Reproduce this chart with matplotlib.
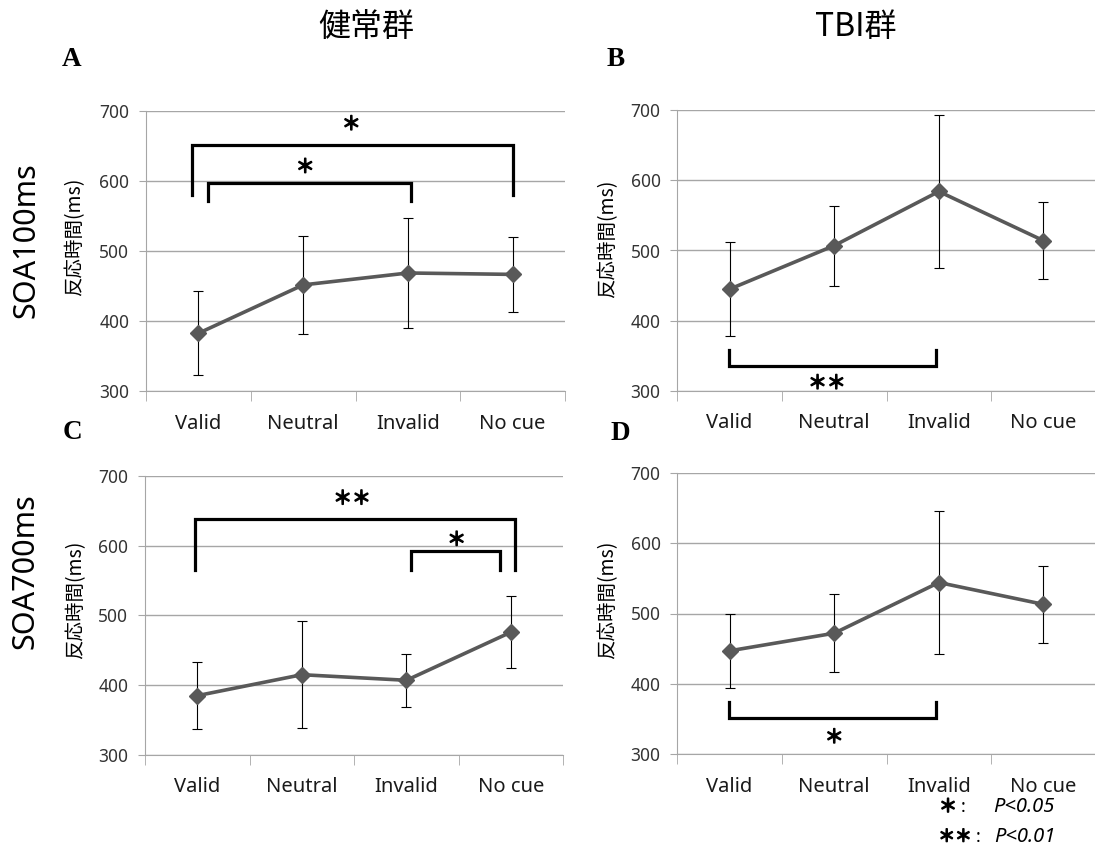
import matplotlib
matplotlib.use('Agg')
import matplotlib.pyplot as plt
import matplotlib.patheffects as pe

plt.rcParams['font.family'] = ['Noto Sans', 'Noto Sans CJK JP', 'DejaVu Sans']

conditions = ['Valid', 'Neutral', 'Invalid', 'No cue']

# A: 健常群 SOA100ms
a_mean = [383, 452, 469, 467]
a_err = [60, 70, 78, 54]
# B: TBI群 SOA100ms
b_mean = [445, 507, 584, 514]
b_err = [67, 57, 109, 55]
# C: 健常群 SOA700ms
c_mean = [385, 415, 407, 476]
c_err = [48, 77, 38, 52]
# D: TBI群 SOA700ms
d_mean = [447, 472, 544, 513]
d_err = [53, 55, 101, 55]

W, H = 1095, 847
fig = plt.figure(figsize=(W / 100, H / 100), dpi=100)
CJK = ['Noto Sans CJK JP', 'DejaVu Sans']
GRID = '#a6a6a6'
HEAVY = [pe.withStroke(linewidth=1.1, foreground='black')]


def px(x, y):
    return x / W, 1 - y / H


def box(l, r, t, b):
    return [l / W, 1 - b / H, (r - l) / W, (b - t) / H]


def stars(ax, x, y, mark):
    ax.text(x, y, mark, ha='center', va='center', fontsize=13.5,
            family=CJK, clip_on=False, path_effects=HEAVY)


def bracket(ax, x1, x2, y, y1, y2):
    ax.plot([x1, x1, x2, x2], [y1, y, y, y2], color='black', lw=2.3,
            clip_on=False, solid_joinstyle='miter', zorder=5)


def panel(rect, mean, err):
    ax = fig.add_axes(rect)
    x = list(range(len(conditions)))
    ax.errorbar(x, mean, yerr=err, fmt='none', ecolor='black', elinewidth=0.8,
                capsize=3.5, capthick=0.8, zorder=3)
    ax.plot(x, mean, color='#595959', lw=2.6, marker='D', ms=8.5, zorder=4)
    ax.set_xlim(-0.5, 3.5)
    ax.set_ylim(300, 700)
    ax.set_yticks([300, 400, 500, 600, 700])
    ax.yaxis.grid(True, color=GRID, lw=1)
    ax.set_axisbelow(True)
    for s in ['top', 'right']:
        ax.spines[s].set_visible(False)
    for s in ['left', 'bottom']:
        ax.spines[s].set_color(GRID)
    ax.set_xticks(x, conditions)
    ax.set_xticks([-0.5, 0.5, 1.5, 2.5, 3.5], minor=True)
    ax.tick_params(axis='x', which='major', length=0, pad=16, labelsize=14.5,
                   labelcolor='#1a1a1a')
    ax.tick_params(axis='x', which='minor', length=7, color=GRID)
    ax.tick_params(axis='y', length=5, color=GRID, labelsize=12.5, pad=7,
                   labelcolor='#333333')
    return ax


axA = panel(box(146, 565, 111, 391.5), a_mean, a_err)
axB = panel(box(677.3, 1095.8, 110, 391), b_mean, b_err)
axC = panel(box(145, 563.3, 475.7, 755), c_mean, c_err)
axD = panel(box(677.3, 1095.8, 472.7, 754.3), d_mean, d_err)

# significance brackets
bracket(axA, -0.06, 3.0, 652, 580, 580)
stars(axA, 1.46, 681, '＊')
bracket(axA, 0.09, 2.03, 597.5, 571, 571)
stars(axA, 1.02, 620, '＊')

bracket(axB, -0.01, 1.97, 335, 359, 359)
stars(axB, 0.93, 311, '＊＊')

bracket(axC, -0.02, 3.04, 638.6, 565, 565)
stars(axC, 1.48, 667, '＊＊')
bracket(axC, 2.04, 2.89, 591.6, 565, 565)
stars(axC, 2.48, 608, '＊')

bracket(axD, -0.01, 1.97, 352, 374.6, 374.6)
stars(axD, 1.0, 324, '＊')

# titles, panel letters, axis labels
fig.text(*px(366, 27), '健常群', ha='center', va='center', fontsize=23, family=CJK)
fig.text(*px(856, 27), 'TBI群', ha='center', va='center', fontsize=23, family=CJK)

for letter, (lx, ly) in zip('ABCD', [(72, 60), (616, 59), (72, 432), (620, 434)]):
    fig.text(*px(lx, ly), letter, ha='center', va='center', fontsize=19.5,
             fontweight='bold', family=['Liberation Serif', 'DejaVu Serif'])

fig.text(*px(27, 240), 'SOA100ms', rotation=90, ha='center', va='center', fontsize=22)
fig.text(*px(26, 571), 'SOA700ms', rotation=90, ha='center', va='center', fontsize=22)

for lx, ly in [(75, 237), (608, 239), (76, 600), (608, 600)]:
    fig.text(*px(lx, ly), '反応時間(ms)', rotation=90, ha='center', va='center',
             fontsize=14, family=CJK)

# legend for significance marks
fig.text(*px(948, 807), '＊', ha='center', va='center', fontsize=13,
         family=CJK, path_effects=HEAVY)
fig.text(*px(963, 807), ':', ha='center', va='center', fontsize=13)
fig.text(*px(993, 807), 'P<0.05', ha='left', va='center', fontsize=14.5, style='italic')
fig.text(*px(955, 837), '＊＊', ha='center', va='center', fontsize=12,
         family=CJK, path_effects=HEAVY)
fig.text(*px(978, 837), ':', ha='center', va='center', fontsize=13)
fig.text(*px(994, 837), 'P<0.01', ha='left', va='center', fontsize=14.5, style='italic')

fig.savefig('out.png', dpi=100)
